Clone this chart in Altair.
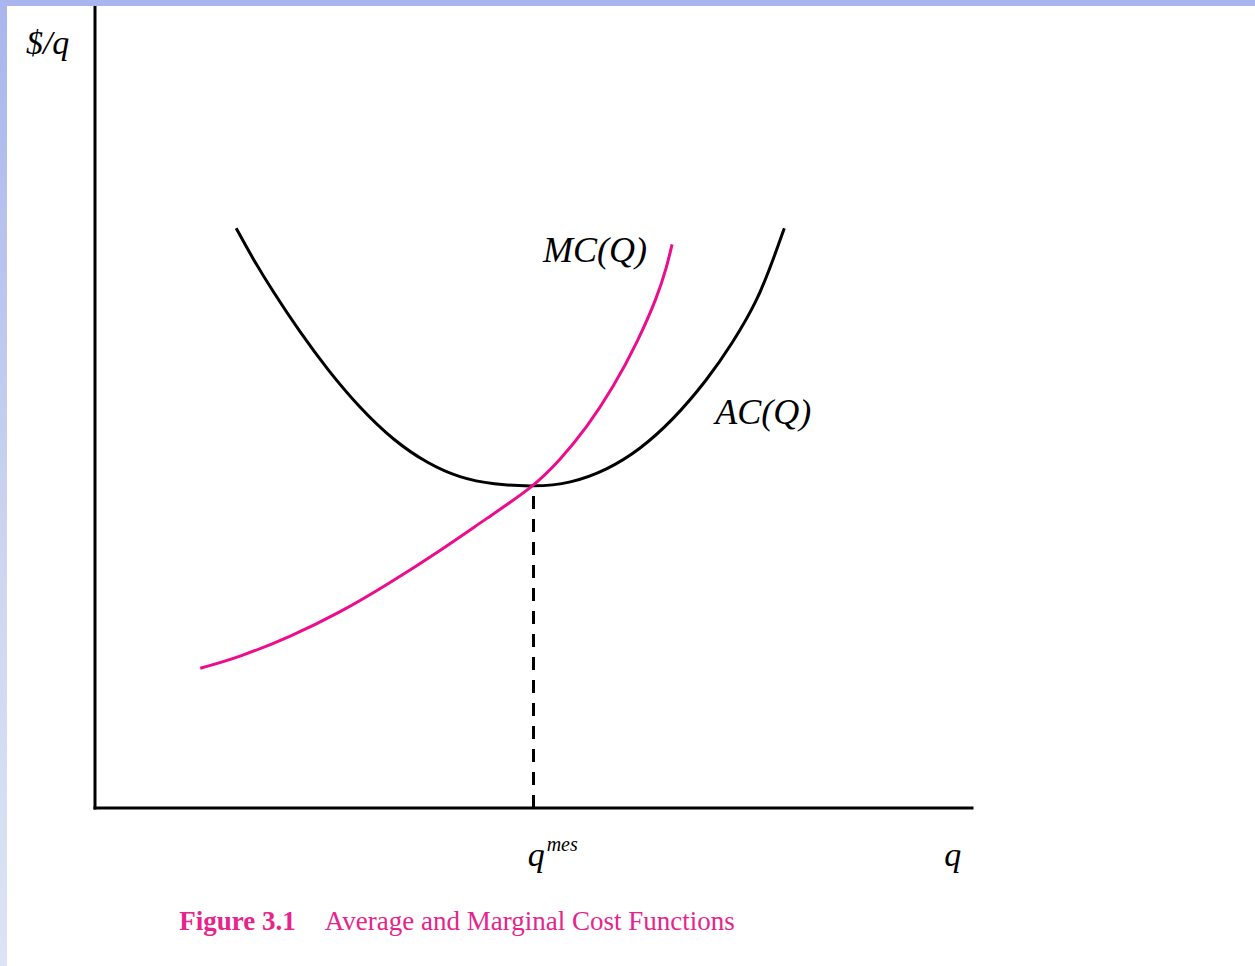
import altair as alt
import pandas as pd

# Average cost curve AC(Q): quantity and $/q
ac_q = [16.1, 18.0, 20.3, 23.4, 26.5, 30.2, 34.0, 37.9, 41.6, 45.4, 50.0,
        54.2, 58.4, 62.1, 65.9, 69.8, 72.7, 75.5, 77.3, 78.6]
ac_c = [72.2, 68.4, 64.3, 59.2, 54.6, 49.8, 45.8, 42.9, 41.1, 40.3, 40.0,
        40.4, 42.1, 44.6, 48.3, 53.3, 57.9, 63.1, 68.2, 72.2]

# Marginal cost curve MC(Q)
mc_q = [12.0, 16.5, 22.2, 27.9, 33.6, 39.3, 44.7, 50.0, 53.0, 56.1, 59.1,
        61.8, 64.1, 65.2, 65.8]
mc_c = [17.4, 18.8, 21.3, 24.3, 28.0, 32.0, 36.1, 40.0, 43.3, 47.4, 52.4,
        57.9, 63.6, 67.4, 70.2]

# Minimum efficient scale
q_mes = 50.0
c_min = 40.0

# Axis extents
axis_max_q = 100.0
axis_max_c = 100.0

PINK = "#ec0c8c"
CAPTION = "#e6248c"
SERIF = "Liberation Serif"

ac = pd.DataFrame({"q": ac_q, "c": ac_c, "i": range(len(ac_q))})
mc = pd.DataFrame({"q": mc_q, "c": mc_c, "i": range(len(mc_q))})

xs = alt.Scale(domain=[0, axis_max_q], nice=False, zero=False)
ys = alt.Scale(domain=[0, axis_max_c], nice=False, zero=False)
X = lambda f: alt.X(f, type="quantitative", scale=xs, axis=None)
Y = lambda f: alt.Y(f, type="quantitative", scale=ys, axis=None)

# Window frame decoration: top band and shaded left strip
top_band = alt.Chart(pd.DataFrame({"k": [0]})).mark_rect(
    color="#a9b5ee"
).encode(x=alt.value(-95), x2=alt.value(1160), y=alt.value(-5), y2=alt.value(1))

left_band = alt.Chart(pd.DataFrame({"k": [0]})).mark_rect(
    color=alt.Gradient(
        gradient="linear",
        stops=[alt.GradientStop(color="#a9b5ee", offset=0),
               alt.GradientStop(color="#cdd7f0", offset=0.6),
               alt.GradientStop(color="#dce3f4", offset=1)],
        x1=0, x2=0, y1=0, y2=1,
    )
).encode(x=alt.value(-95), x2=alt.value(-88), y=alt.value(-5), y2=alt.value(961))

# Axes drawn as plain lines
axes_df = pd.DataFrame({
    "x": [0.0, 0.0], "x2": [axis_max_q, 0.0],
    "y": [0.0, 0.0], "y2": [0.0, axis_max_c],
})
axes = alt.Chart(axes_df).mark_rule(
    color="black", strokeWidth=3, strokeCap="square"
).encode(x=X("x"), x2="x2", y=Y("y"), y2="y2")

# Dashed drop line from the AC minimum
drop = alt.Chart(pd.DataFrame({"x": [q_mes], "y": [0.0], "y2": [c_min]})).mark_rule(
    color="black", strokeWidth=3, strokeDash=[13, 10]
).encode(x=X("x"), y=Y("y"), y2="y2")

ac_line = alt.Chart(ac).mark_line(
    color="black", strokeWidth=3, interpolate="basis"
).encode(x=X("q"), y=Y("c"), order="i")

mc_line = alt.Chart(mc).mark_line(
    color=PINK, strokeWidth=3, interpolate="basis"
).encode(x=X("q"), y=Y("c"), order="i")

# Italic math labels
labels_df = pd.DataFrame({
    "x": [-5.4, 57.0, 76.2, 50.3, 97.8],
    "y": [93.9, 68.0, 47.8, -7.2, -7.2],
    "t": ["$/q", "MC(Q)", "AC(Q)", "q", "q"],
    "s": [34, 36, 36, 34, 34],
})
labels = alt.Chart(labels_df).mark_text(
    font=SERIF, fontStyle="italic", color="black", baseline="alphabetic", align="center"
).encode(x=X("x"), y=Y("y"), text="t", size=alt.Size("s:Q", scale=None))

sup = alt.Chart(pd.DataFrame({"x": [51.5], "y": [-5.35], "t": ["mes"]})).mark_text(
    font=SERIF, fontStyle="italic", color="black", baseline="alphabetic",
    align="left", fontSize=20
).encode(x=X("x"), y=Y("y"), text="t")

cap_num = alt.Chart(pd.DataFrame({"x": [9.6], "y": [-15.2], "t": ["Figure 3.1"]})).mark_text(
    font=SERIF, fontWeight="bold", color=CAPTION, baseline="alphabetic",
    align="left", fontSize=27
).encode(x=X("x"), y=Y("y"), text="t")

cap_txt = alt.Chart(pd.DataFrame({"x": [26.2], "y": [-15.2],
                                  "t": ["Average and Marginal Cost Functions"]})).mark_text(
    font=SERIF, color=CAPTION, baseline="alphabetic", align="left", fontSize=27
).encode(x=X("x"), y=Y("y"), text="t")

chart = alt.layer(
    axes, drop, ac_line, mc_line, labels, sup, cap_num, cap_txt, top_band, left_band
).properties(
    width=877, height=803,
    padding={"left": 95, "top": 5, "right": 283, "bottom": 158},
    autosize=alt.AutoSizeParams(type="none"),
    background="white",
).configure_view(stroke=None)

chart.save("out.html", embed_options={"renderer": "svg", "actions": False})
